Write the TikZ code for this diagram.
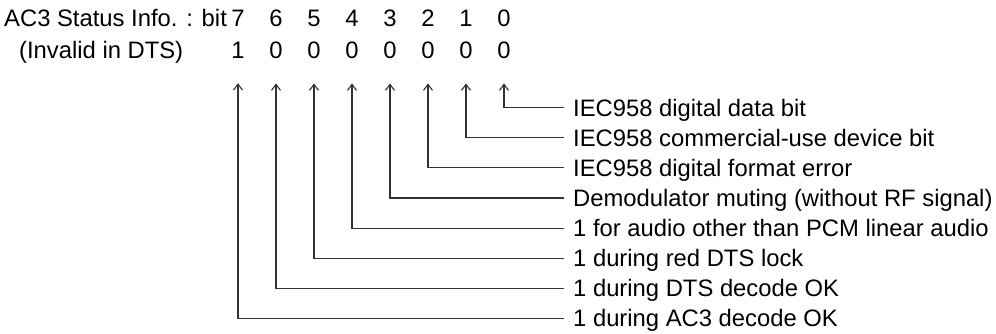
\documentclass[tikz,border=0pt]{standalone}
\usepackage{fontspec}
\setmainfont{Liberation Sans}
\usetikzlibrary{positioning,arrows.meta}

\tikzset{
  bitnum/.style={anchor=base, inner sep=0pt},
  desc/.style={anchor=west, inner xsep=9pt, inner ysep=0pt, text height=17pt, text depth=0pt},
  flag/.style={draw=black!80, line width=1.1pt, -{Straight Barb[length=6pt,width=9pt]}, shorten >=24.5pt},
}

\begin{document}
\begin{tikzpicture}[x=1pt, y=-1pt, font=\fontsize{23.8}{28}\selectfont]
    \useasboundingbox (0,0) rectangle (996,333);

    % Header rows
    \node[bitnum, anchor=base west] (head) at (4,26.5) {AC3 Status Info. : bit};
    \node[bitnum, anchor=base west] (note) at (19,58.5) {(Invalid in DTS)};

    % Bit numbers
    \node[bitnum] (b7) at (238,26.5) {7};
    \node[bitnum] (b6) at (276,26.5) {6};
    \node[bitnum] (b5) at (314,26.5) {5};
    \node[bitnum] (b4) at (352,26.5) {4};
    \node[bitnum] (b3) at (390,26.5) {3};
    \node[bitnum] (b2) at (428,26.5) {2};
    \node[bitnum] (b1) at (466,26.5) {1};
    \node[bitnum] (b0) at (504,26.5) {0};

    % Bit values
    \node[bitnum] (v7) at (238,58.5) {1};
    \node[bitnum] (v6) at (276,58.5) {0};
    \node[bitnum] (v5) at (314,58.5) {0};
    \node[bitnum] (v4) at (352,58.5) {0};
    \node[bitnum] (v3) at (390,58.5) {0};
    \node[bitnum] (v2) at (428,58.5) {0};
    \node[bitnum] (v1) at (466,58.5) {0};
    \node[bitnum] (v0) at (504,58.5) {0};

    % Descriptions
    \node[desc] (l0) at (564,107.7) {IEC958 digital data bit};
    \node[desc] (l1) at (564,137.8) {IEC958 commercial-use device bit};
    \node[desc] (l2) at (564,167.9) {IEC958 digital format error};
    \node[desc] (l3) at (564,198.0) {Demodulator muting (without RF signal)};
    \node[desc] (l4) at (564,228.1) {1 for audio other than PCM linear audio};
    \node[desc] (l5) at (564,258.2) {1 during red DTS lock};
    \node[desc] (l6) at (564,288.3) {1 during DTS decode OK};
    \node[desc] (l7) at (564,318.4) {1 during AC3 decode OK};

    % Pointers
    \draw[flag] (l0.west) -| (v0.south);
    \draw[flag] (l1.west) -| (v1.south);
    \draw[flag] (l2.west) -| (v2.south);
    \draw[flag] (l3.west) -| (v3.south);
    \draw[flag] (l4.west) -| (v4.south);
    \draw[flag] (l5.west) -| (v5.south);
    \draw[flag] (l6.west) -| (v6.south);
    \draw[flag] (l7.west) -| (v7.south);
\end{tikzpicture}
\end{document}
